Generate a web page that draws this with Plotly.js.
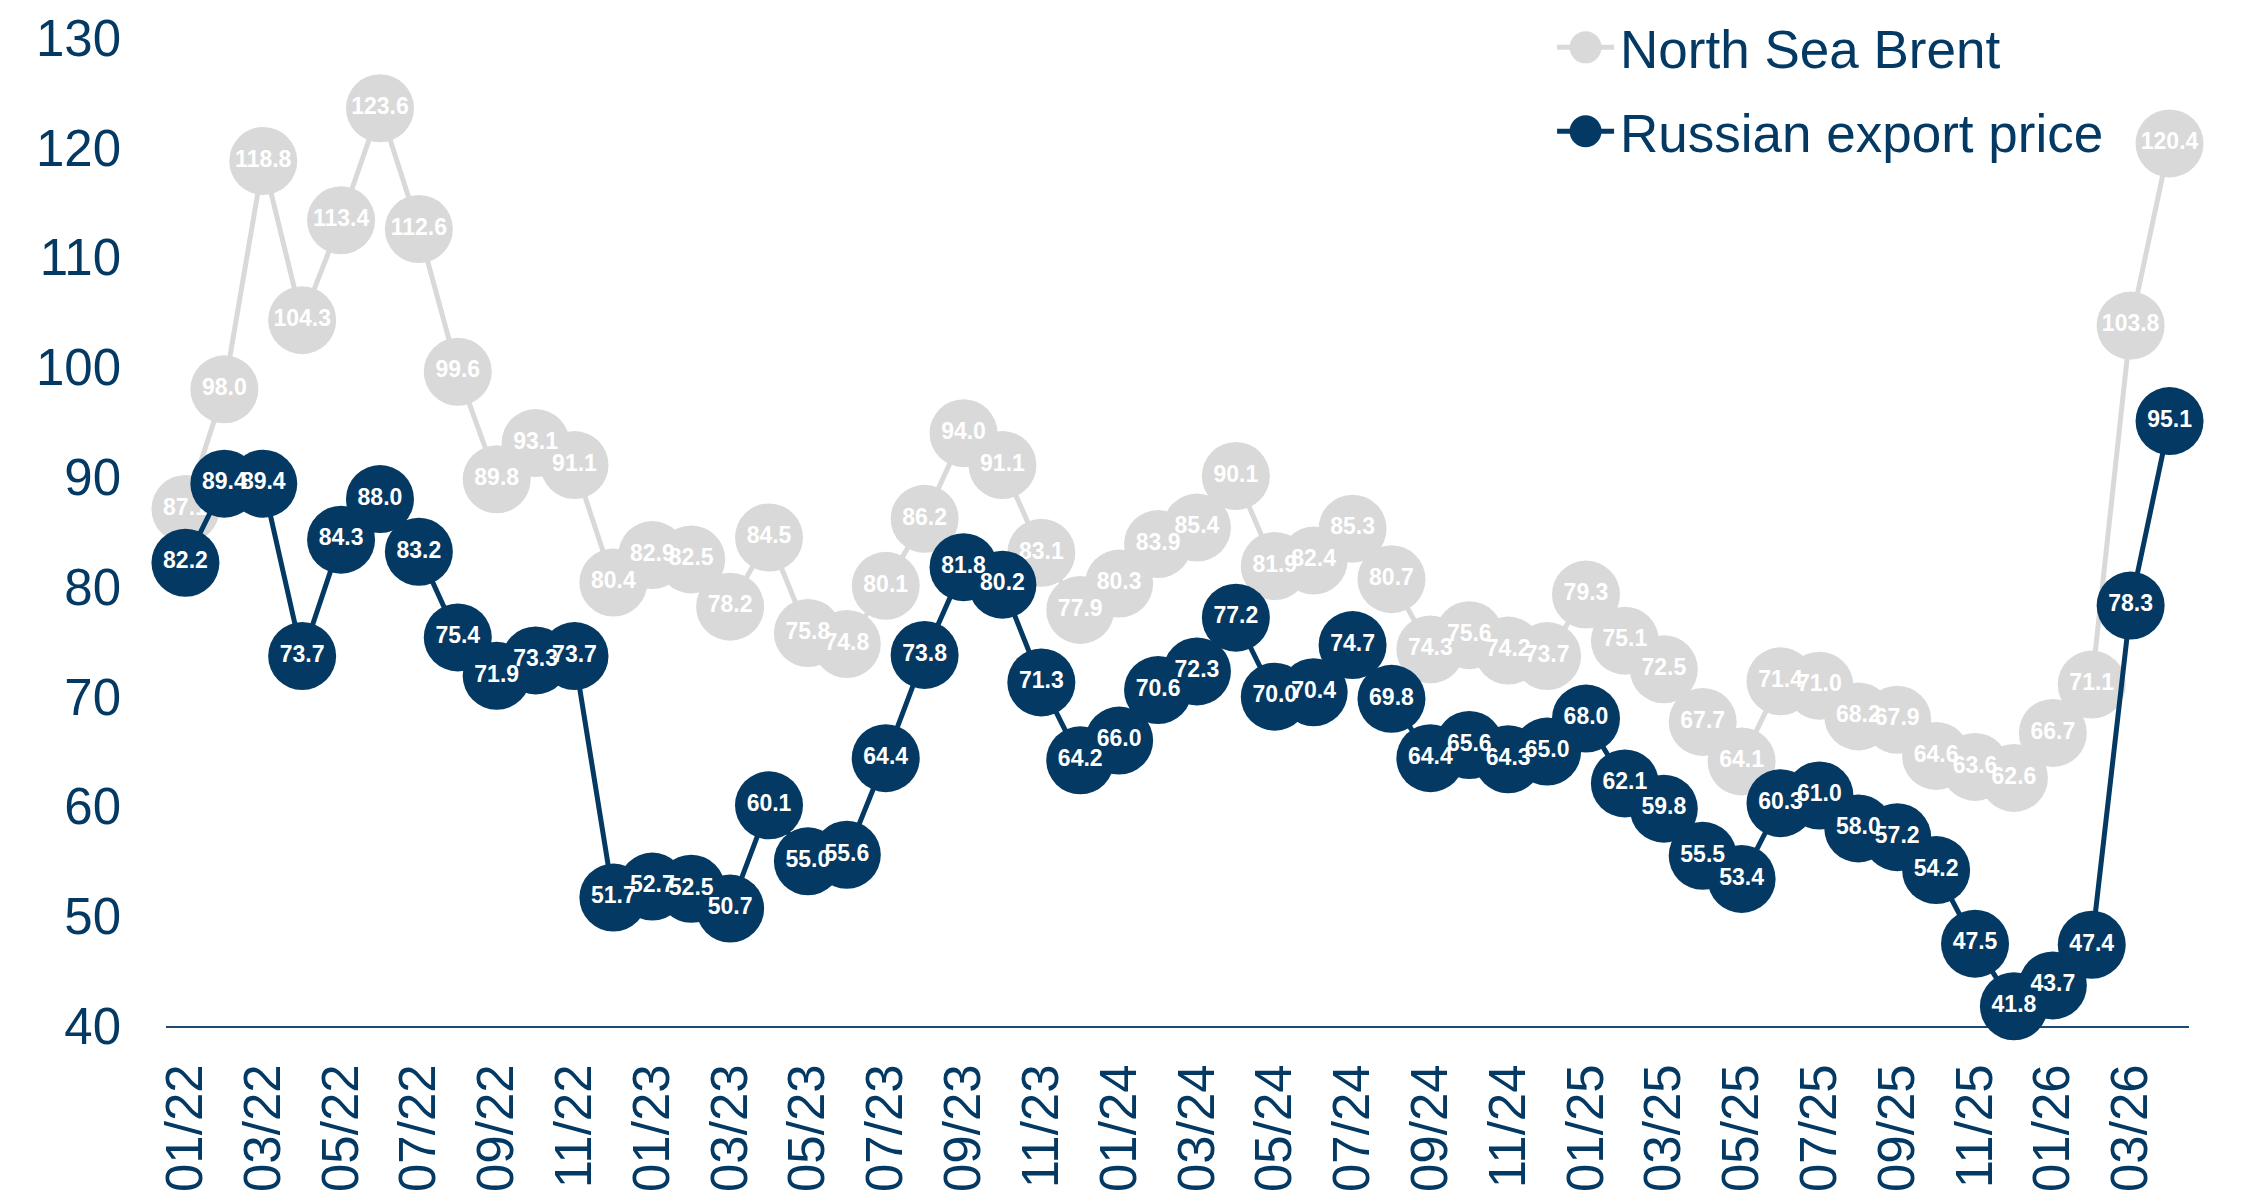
<!DOCTYPE html>
<html>
<head>
<meta charset="utf-8">
<script src="https://cdn.plot.ly/plotly-3.0.1.min.js"></script>
<style>
  html, body { margin: 0; padding: 0; background: #ffffff; }
  #chart { width: 2242px; height: 1199px; }
</style>
</head>
<body>
<div id="chart"></div>
<script>
const months = [
  "01/22","02/22","03/22","04/22","05/22","06/22","07/22","08/22","09/22","10/22","11/22","12/22",
  "01/23","02/23","03/23","04/23","05/23","06/23","07/23","08/23","09/23","10/23","11/23","12/23",
  "01/24","02/24","03/24","04/24","05/24","06/24","07/24","08/24","09/24","10/24","11/24","12/24",
  "01/25","02/25","03/25","04/25","05/25","06/25","07/25","08/25","09/25","10/25","11/25","12/25",
  "01/26","02/26","03/26","04/26"
];
const brent = [
  87.1, 98.0, 118.8, 104.3, 113.4, 123.6, 112.6, 99.6, 89.8, 93.1, 91.1, 80.4,
  82.9, 82.5, 78.2, 84.5, 75.8, 74.8, 80.1, 86.2, 94.0, 91.1, 83.1, 77.9,
  80.3, 83.9, 85.4, 90.1, 81.9, 82.4, 85.3, 80.7, 74.3, 75.6, 74.2, 73.7,
  79.3, 75.1, 72.5, 67.7, 64.1, 71.4, 71.0, 68.2, 67.9, 64.6, 63.6, 62.6,
  66.7, 71.1, 103.8, 120.4
];
const russian = [
  82.2, 89.4, 89.4, 73.7, 84.3, 88.0, 83.2, 75.4, 71.9, 73.3, 73.7, 51.7,
  52.7, 52.5, 50.7, 60.1, 55.0, 55.6, 64.4, 73.8, 81.8, 80.2, 71.3, 64.2,
  66.0, 70.6, 72.3, 77.2, 70.0, 70.4, 74.7, 69.8, 64.4, 65.6, 64.3, 65.0,
  68.0, 62.1, 59.8, 55.5, 53.4, 60.3, 61.0, 58.0, 57.2, 54.2, 47.5, 41.8,
  43.7, 47.4, 78.3, 95.1
];
const seriesNames = ["North Sea Brent", "Russian export price"];
const yTicks = [40, 50, 60, 70, 80, 90, 100, 110, 120, 130];
const xTickLabels = months.filter((m, i) => i % 2 === 0);

const NAVY = "#033962";
const GRAY = "#d9d9d9";
const FONT = "Liberation Sans, Arial, sans-serif";

function trace(name, values, color, group) {
  return {
    type: "scatter",
    mode: "lines+markers+text",
    name: name,
    legendgroup: group,
    x: months,
    y: values,
    text: values.map(v => v.toFixed(1)),
    textposition: "middle center",
    textfont: { family: FONT, size: 23, color: "#ffffff", weight: 700 },
    line: { color: color, width: 5 },
    marker: { color: color, size: 68, symbol: "circle" },
    cliponaxis: false,
    hoverinfo: "x+y"
  };
}

const data = [
  trace(seriesNames[0], brent, GRAY, "a"),
  trace(seriesNames[1], russian, NAVY, "b")
];

const layout = {
  width: 2242,
  height: 1199,
  margin: { l: 166, r: 53, t: 38, b: 173, autoexpand: false },
  paper_bgcolor: "#ffffff",
  plot_bgcolor: "#ffffff",
  font: { family: FONT, color: NAVY },
  showlegend: true,
  legend: {
    x: 0.699, xanchor: "left",
    y: 1.032, yanchor: "top",
    font: { family: FONT, size: 53, color: NAVY },
    bgcolor: "rgba(0,0,0,0)",
    traceorder: "grouped",
    tracegroupgap: 12,
    itemsizing: "trace"
  },
  xaxis: {
    type: "category",
    range: [-0.5, months.length - 0.5],
    tickmode: "array",
    tickvals: xTickLabels,
    ticktext: xTickLabels,
    tickangle: -90,
    tickfont: { family: FONT, size: 51, color: NAVY },
    ticks: "",
    ticklabelstandoff: 16,
    showline: true,
    linecolor: "#1d4a75",
    linewidth: 2,
    showgrid: false,
    zeroline: false,
    layer: "below traces",
    fixedrange: true
  },
  yaxis: {
    range: [40, 130],
    tickmode: "array",
    tickvals: yTicks,
    ticktext: yTicks.map(String),
    tickfont: { family: FONT, size: 51, color: NAVY },
    ticks: "",
    ticklabelstandoff: 44,
    showline: false,
    showgrid: false,
    zeroline: false,
    fixedrange: true
  }
};

Plotly.newPlot("chart", data, layout, { displayModeBar: false, staticPlot: true }).then(() => {
  // let the enlarged legend key extend past the legend's clip box
  document.querySelectorAll(".legend [clip-path]").forEach(el => el.removeAttribute("clip-path"));
  document.querySelectorAll(".legend .legendpoints path.scatterpts").forEach(p => {
    const t = p.getAttribute("transform") || "";
    p.setAttribute("transform", "translate(-14.5,0) " + t + " scale(2)");
  });
  document.querySelectorAll(".legend .legendlines path").forEach(p => {
    p.setAttribute("transform", "translate(-14.5,0) translate(20,0) scale(1.9,1) translate(-20,0)");
  });
});
</script>
</body>
</html>
